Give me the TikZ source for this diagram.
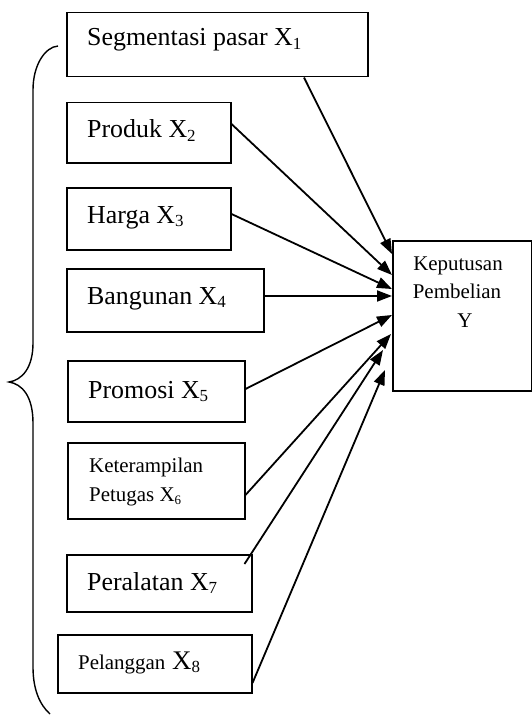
\documentclass[tikz,border=0pt]{standalone}
\usepackage{fontspec}
\setmainfont{Liberation Serif}
\usetikzlibrary{arrows.meta,calc}
% lowered, smaller index digits
\newcommand{\subbig}[1]{\raisebox{-3.5bp}{\fontsize{17}{17}\selectfont #1}}
\newcommand{\subsmall}[1]{\raisebox{-3bp}{\fontsize{13}{13}\selectfont #1}}

\begin{document}
\begin{tikzpicture}[x=1bp,y=-1bp,
  box/.style={draw,line width=1.5bp,rectangle,inner sep=0pt,anchor=north west},
  lbl/.style={anchor=base west,inner sep=0pt,font=\fontsize{26}{30}\selectfont},
  lblsmall/.style={anchor=base west,inner sep=0pt,font=\fontsize{21}{25}\selectfont},
  ylbl/.style={anchor=base,inner sep=0pt,font=\fontsize{21}{25}\selectfont},
  link/.style={line width=1.8bp,-{Triangle[length=15bp,width=11bp]}}]
\fill[white] (0,0) rectangle (532,715);
\clip (0,0) rectangle (532,715);

% variable boxes
\node[box,minimum width=301bp,minimum height=64bp] (x1) at (66,12) {};
\node[box,minimum width=164bp,minimum height=60bp] (x2) at (66,102) {};
\node[box,minimum width=164bp,minimum height=62bp] (x3) at (66,187) {};
\node[box,minimum width=197bp,minimum height=63bp] (x4) at (66,268) {};
\node[box,minimum width=177bp,minimum height=61bp] (x5) at (67,360) {};
\node[box,minimum width=177bp,minimum height=76bp] (x6) at (67,442) {};
\node[box,minimum width=185bp,minimum height=57bp] (x7) at (66,554) {};
\node[box,minimum width=194bp,minimum height=58bp] (x8) at (57,634) {};

% dependent variable box
\node[box,minimum width=139bp,minimum height=150bp] (y) at (392,240) {};

% labels
\node[lbl] (t1) at (87,46) {Segmentasi pasar X\subbig{1}};
\node[lbl] (t2) at (87,138) {Produk X\subbig{2}};
\node[lbl] (t3) at (87,223) {Harga X\subbig{3}};
\node[lbl] (t4) at (87,304) {Bangunan X\subbig{4}};
\node[lbl] (t5) at (88,398) {Promosi X\subbig{5}};
\node[lblsmall] (t6a) at (89,472) {Keterampilan};
\node[lblsmall] (t6b) at (89,501) {Petugas X\subsmall{6}};
\node[lbl] (t7) at (87,590) {Peralatan X\subbig{7}};
\node[lblsmall] (t8) at (78,669) {Pelanggan{\fontsize{27}{30}\selectfont\ X\subbig{8}}};

\node[ylbl] (yl1) at (458,270) {Keputusan};
\node[ylbl] (yl2) at (457,298) {Pembelian};
\node[ylbl] (yl3) at (465,327) {Y};

% influences
\draw[link] ($(x1.south west)+(238,0)$) -- ($(y.north west)+(0,14)$);
\draw[link] ($(x2.north east)+(0,22)$) -- ($(y.north west)+(0,35)$);
\draw[link] ($(x3.north east)+(0,27)$) -- ($(y.north west)+(0,49)$);
\draw[link] ($(x4.north east)+(0,28)$) -- ($(y.north west)+(0,56)$);
\draw[link] ($(x5.north east)+(0,29)$) -- ($(y.north west)+(0,75)$);
\draw[link] ($(x6.north east)+(0,53)$) -- ($(y.north west)+(-1,94)$);
\draw[link] ($(x7.north east)+(-8,10)$) -- ($(y.north west)+(-9,110)$);
\draw[link] ($(x8.north east)+(0,49)$) -- ($(y.north west)+(-7,130)$);

% grouping brace
\draw[line width=1.4bp] (58,46) .. controls (45,47) and (33,65) .. (33,90)
  -- (33,343) .. controls (33,368) and (22,380) .. (9,382)
  .. controls (22,384) and (33,396) .. (33,423)
  -- (33,667) .. controls (33,690) and (40,705) .. (50,714);
\end{tikzpicture}
\end{document}
